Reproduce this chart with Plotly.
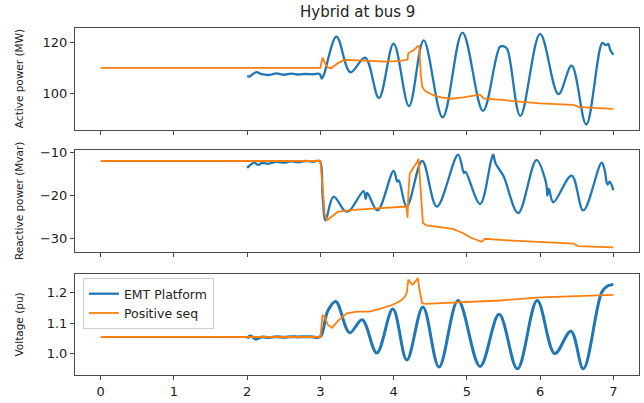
import plotly.graph_objects as go

# ---- series data: time (s) and values ----
# Active power (MW)
p_emt_t = [2.00, 2.03, 2.08, 2.13, 2.20, 2.30, 2.40, 2.50, 2.60, 2.70, 2.80, 2.90, 2.99,
           3.02, 3.05, 3.22, 3.41, 3.61, 3.80, 4.00, 4.21, 4.41, 4.67, 4.94, 5.22,
           5.45, 5.50, 5.55, 5.73, 6.00, 6.25, 6.43, 6.63, 6.85, 6.90, 6.93, 6.96, 7.00]
p_emt_v = [106.8, 106.6, 107.6, 108.3, 107.5, 107.2, 107.8, 107.3, 107.7, 107.4, 107.6, 107.5, 107.6,
           105.8, 107.5, 122.4, 108.3, 114.1, 98.1, 119.6, 94.9, 120.9, 90.4, 124.0, 93.0,
           118.3, 118.6, 117.5, 91.0, 123.5, 99.6, 110.9, 87.6, 119.9, 119.0, 119.5, 117.0, 115.2]

p_pos_t = [0.0, 3.00, 3.03, 3.06, 3.10, 3.15, 3.22, 3.30, 3.36, 3.50, 3.63, 3.90, 4.10, 4.16,
           4.19, 4.20, 4.23, 4.28, 4.33, 4.35, 4.37, 4.39, 4.43, 4.54, 4.65, 4.79, 4.95,
           5.18, 5.23, 5.50, 6.00, 6.45, 6.54, 7.00]
p_pos_v = [110.0, 110.0, 114.1, 112.0, 110.2, 109.9, 111.5, 112.8, 113.2, 113.0, 112.6, 112.5, 112.8, 113.2,
           113.3, 115.8, 116.3, 117.2, 118.6, 118.6, 108.0, 102.5, 100.8, 99.2, 98.3, 97.8, 98.3,
           99.4, 97.9, 97.2, 96.0, 95.4, 94.5, 93.8]

# Reactive power (Mvar)
q_emt_t = [2.00, 2.05, 2.10, 2.15, 2.20, 2.30, 2.40, 2.50, 2.60, 2.70, 2.80, 2.90, 2.99,
           3.03, 3.07, 3.18, 3.34, 3.40, 3.59, 3.62, 3.64, 3.78, 4.00, 4.05, 4.07, 4.18,
           4.39, 4.59, 4.88, 4.96, 4.98, 5.18, 5.33, 5.36, 5.39, 5.50, 5.70, 5.95,
           6.08, 6.10, 6.12, 6.18, 6.43, 6.59, 6.84, 6.88, 6.92, 6.95, 7.00]
q_emt_v = [-13.6, -12.8, -12.4, -12.9, -12.5, -12.6, -12.2, -12.4, -12.1, -12.3, -12.0, -12.2, -12.0,
           -20.0, -25.8, -20.3, -23.7, -23.5, -19.0, -20.8, -19.4, -23.5, -14.3, -16.8, -16.5, -22.6,
           -12.0, -22.6, -10.5, -14.8, -14.5, -22.0, -12.0, -10.5, -12.5, -15.5, -24.1, -11.8,
           -17.0, -20.0, -18.5, -21.6, -15.4, -23.5, -12.4, -14.0, -17.5, -16.8, -18.8]

q_pos_t = [0.0, 3.00, 3.03, 3.06, 3.09, 3.15, 3.24, 3.50, 3.80, 4.17, 4.18, 4.19, 4.20, 4.22,
           4.27, 4.32, 4.34, 4.37, 4.40, 4.45, 4.54, 4.81, 4.95, 5.05, 5.20, 5.25,
           5.50, 6.00, 6.45, 6.52, 7.00]
q_pos_v = [-12.0, -12.0, -18.0, -24.5, -25.8, -25.0, -23.8, -23.3, -23.0, -22.6, -23.5, -25.2, -20.0, -15.0,
           -13.5, -12.3, -11.5, -18.0, -26.4, -27.0, -27.2, -27.8, -28.8, -29.8, -30.8, -30.1,
           -30.4, -30.8, -31.2, -31.8, -32.1]

# Voltage (pu)
v_emt_t = [2.00, 2.04, 2.08, 2.12, 2.20, 2.30, 2.40, 2.50, 2.60, 2.70, 2.80, 2.90, 3.00,
           3.10, 3.21, 3.40, 3.57, 3.77, 3.99, 4.18, 4.40, 4.62, 4.88, 5.18, 5.44,
           5.69, 5.96, 6.20, 6.42, 6.59, 6.84, 6.92, 7.00]
v_emt_v = [1.050, 1.058, 1.054, 1.048, 1.055, 1.053, 1.056, 1.054, 1.056, 1.055, 1.056, 1.055, 1.056,
           1.140, 1.171, 1.069, 1.111, 1.003, 1.146, 0.980, 1.153, 0.957, 1.174, 0.959, 1.129,
           0.951, 1.174, 1.001, 1.074, 0.951, 1.200, 1.221, 1.226]

v_pos_t = [0.0, 3.00, 3.03, 3.06, 3.10, 3.16, 3.25, 3.36, 3.50, 3.67, 3.80, 3.99, 4.10, 4.15,
           4.18, 4.20, 4.23, 4.26, 4.30, 4.33, 4.36, 4.39, 4.43, 4.80, 5.45, 6.00, 6.50, 7.00]
v_pos_v = [1.055, 1.055, 1.127, 1.120, 1.095, 1.085, 1.110, 1.132, 1.138, 1.138, 1.146, 1.160, 1.174, 1.185,
           1.200, 1.242, 1.232, 1.226, 1.237, 1.247, 1.200, 1.165, 1.163, 1.167, 1.174, 1.184, 1.188, 1.192]

x_ticks = [0, 1, 2, 3, 4, 5, 6, 7]
series_names = ["EMT Platform", "Positive seq"]
panel_titles = ["Active power (MW)", "Reactive power (Mvar)", "Voltage (pu)"]
chart_title = "Hybrid at bus 9"

BLUE = "#1f77b4"
ORANGE = "#ff7f0e"
FRAME = "#4a4a4a"
TXT = "#222222"
FONT = "DejaVu Sans"

fig = go.Figure()

panels = [
    (p_emt_t, p_emt_v, p_pos_t, p_pos_v, "x", "y", 2.3),
    (q_emt_t, q_emt_v, q_pos_t, q_pos_v, "x2", "y2", 2.3),
    (v_emt_t, v_emt_v, v_pos_t, v_pos_v, "x3", "y3", 3.0),
]
for i, (et, ev, pt, pv, xa, ya, bw) in enumerate(panels):
    first = i == 0  # legend entries come from the top panel's traces
    fig.add_trace(go.Scatter(x=et, y=ev, mode="lines", name=series_names[0],
                             line=dict(color=BLUE, width=bw, shape="spline", smoothing=1.0),
                             xaxis=xa, yaxis=ya, showlegend=first))
    fig.add_trace(go.Scatter(x=pt, y=pv, mode="lines", name=series_names[1],
                             line=dict(color=ORANGE, width=1.8),
                             xaxis=xa, yaxis=ya, showlegend=first))

W, H = 644, 403
ML, MR, MT, MB = 75, 4, 28, 18
plot_h = H - MT - MB

def dom(top_px, bot_px):
    return [(H - MB - bot_px) / plot_h, (H - MB - top_px) / plot_h]

domains = [dom(28, 133), dom(154, 258), dom(281, 385)]
yranges = [[85.4, 125.8], [-33.07, -9.55], [0.931, 1.2607]]
ytickvals = [[100, 120], [-30, -20, -10], [1.0, 1.1, 1.2]]
yticktext = [["100", "120"], ["\u221230", "\u221220", "\u221210"], ["1.0", "1.1", "1.2"]]

axis_common = dict(showline=True, linecolor=FRAME, linewidth=1, mirror=True,
                   ticks="outside", ticklen=4, tickwidth=1, tickcolor=FRAME,
                   showgrid=False, zeroline=False,
                   tickfont=dict(family=FONT, size=13, color=TXT))

layout = dict(
    width=W, height=H,
    margin=dict(l=ML, r=MR, t=MT, b=MB),
    paper_bgcolor="white", plot_bgcolor="white",
    font=dict(family=FONT, color=TXT),
    legend=dict(x=0.014, y=domains[2][1] - 0.012, xanchor="left", yanchor="top",
                bgcolor="rgba(255,255,255,0.85)", bordercolor="#cccccc", borderwidth=1,
                font=dict(family=FONT, size=12.5, color=TXT), itemwidth=30,
                tracegroupgap=0),
)
for i in range(3):
    sfx = "" if i == 0 else str(i + 1)
    layout["xaxis" + sfx] = dict(axis_common, domain=[0, 1], range=[-0.35, 7.35],
                                 tickvals=x_ticks, showticklabels=(i == 2),
                                 anchor="y" + sfx,
                                 **({} if i == 0 else {"matches": "x"}))
    layout["yaxis" + sfx] = dict(axis_common, domain=domains[i], range=yranges[i],
                                 tickvals=ytickvals[i], ticktext=yticktext[i],
                                 anchor="x" + sfx)
fig.update_layout(**layout)

annotations = [dict(text=chart_title, xref="paper", yref="paper", x=0.5, y=1,
                    yanchor="bottom", yshift=5, showarrow=False,
                    font=dict(family=FONT, size=15, color=TXT))]
for i in range(3):
    annotations.append(dict(text=panel_titles[i], xref="paper", yref="paper",
                            x=(19 - ML) / (W - ML - MR), y=sum(domains[i]) / 2,
                            xanchor="center", yanchor="middle", textangle=-90,
                            showarrow=False, font=dict(family=FONT, size=10.5, color=TXT)))
fig.update_layout(annotations=annotations)

fig.write_html("out.html")
